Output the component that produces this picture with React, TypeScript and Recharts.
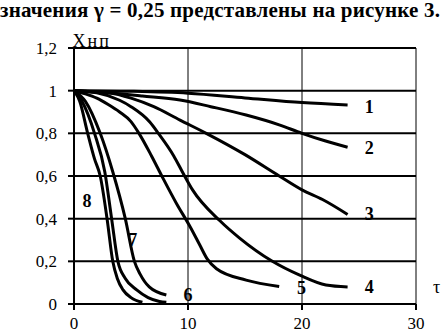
import React from 'react';
import { LineChart, Line, XAxis, YAxis, CartesianGrid, ReferenceDot } from 'recharts';

const titleText = 'значения γ = 0,25 представлены на рисунке 3.';
const yAxisTitle = 'Хнп';
const xAxisTitle = 'τ';

const xTicks = [0, 10, 20, 30];
const yTicks = [0, 0.2, 0.4, 0.6, 0.8, 1, 1.2];

const curve1: number[][] = [[0, 1], [5, 0.997], [10, 0.988], [15, 0.966], [20, 0.944], [24, 0.933]];
const curve2: number[][] = [[0, 1], [3, 0.99], [6, 0.975], [9.3, 0.956], [12, 0.925], [15.1, 0.886], [18, 0.84], [20, 0.8], [22, 0.765], [24, 0.735]];
const curve3: number[][] = [[0, 1], [3, 0.99], [5, 0.965], [7, 0.925], [9.3, 0.862], [11.6, 0.8], [15, 0.7], [18, 0.6], [20, 0.535], [21.8, 0.49], [24, 0.42]];
const curve4: number[][] = [[0, 1], [2, 0.99], [4, 0.955], [5, 0.925], [6.65, 0.853], [7.4, 0.8], [8.75, 0.694], [9.5, 0.62], [10.4, 0.535], [12.8, 0.39], [14.5, 0.31], [17.4, 0.2], [19.8, 0.135], [22.1, 0.089], [24, 0.08]];
const curve5: number[][] = [[0, 1], [1, 0.985], [2, 0.965], [3, 0.935], [4, 0.9], [5, 0.855], [5.7, 0.8], [6.8, 0.694], [7.8, 0.59], [9, 0.47], [10.1, 0.37], [11, 0.28], [11.7, 0.21], [12.5, 0.165], [15.1, 0.112], [18, 0.082]];
const curve6: number[][] = [[0, 1], [0.7, 0.95], [1.8, 0.8], [2.7, 0.62], [3.3, 0.4], [3.85, 0.2], [4.5, 0.12], [5.5, 0.066], [6.5, 0.03], [7.5, 0.012], [8.1, 0.008]];
const curve7: number[][] = [[0, 1], [1, 0.95], [2.3, 0.8], [3.4, 0.62], [4.5, 0.4], [5.3, 0.2], [5.8, 0.14], [6.6, 0.08], [8.1, 0.042]];
const curve8: number[][] = [[0, 1], [0.5, 0.95], [1.2, 0.8], [1.8, 0.68], [2.3, 0.6], [2.9, 0.4], [3.4, 0.2], [3.8, 0.12], [4.3, 0.066], [5, 0.03], [6, 0.008]];

const curves = [curve1, curve2, curve3, curve4, curve5, curve6, curve7, curve8];

const curveLabels = ['1', '2', '3', '4', '5', '6', '7', '8'];
const curveLabelX = [25.9, 25.9, 25.9, 25.9, 19.95, 10.0, 5.16, 1.14];
const curveLabelY = [0.923, 0.731, 0.422, 0.08, 0.075, 0.04, 0.3, 0.483];

const toPts = (a: number[][]) => a.map(([x, y]) => ({ x, y }));
const fmt = (v: number) => String(v).replace('.', ',');

const serif = 'Liberation Serif, Times New Roman, DejaVu Serif, Noto Serif, serif';

const TextShape = (txt: string, bold: boolean, size: number, baseline: string = 'central', spacing: number = 0) => (p: any) => (
  <text
    x={p.cx}
    y={p.cy}
    textAnchor="middle"
    dominantBaseline={baseline}
    style={{ fontFamily: serif, letterSpacing: spacing }}
    fontWeight={bold ? 'bold' : 'normal'}
    fontSize={size}
    fill="#000"
  >
    {txt}
  </text>
);

export default function App() {
  return (
    <div style={{ position: 'absolute', left: 0, top: 0, width: 444, height: 332, background: '#fff', overflow: 'hidden', fontFamily: serif }}>
      <div
        style={{
          position: 'absolute',
          left: 0,
          top: -3,
          fontFamily: serif,
          fontSize: 21,
          fontWeight: 'bold',
          letterSpacing: 0.2,
          whiteSpace: 'nowrap',
          color: '#000',
          lineHeight: '26px',
        }}
      >
        {titleText}
      </div>
      <LineChart width={444} height={332} margin={{ top: 48, right: 28, bottom: 8, left: 14 }} style={{ fontFamily: serif }}>
        <CartesianGrid horizontal={true} vertical={false} stroke="#000" strokeWidth={2} strokeOpacity={1} />
        <CartesianGrid horizontal={false} vertical={true} stroke="#000" strokeWidth={1} strokeOpacity={1} />
        <XAxis
          type="number"
          dataKey="x"
          domain={[0, 30]}
          ticks={xTicks}
          allowDataOverflow
          height={20}
          tickSize={6}
          tickMargin={7}
          stroke="#000"
          strokeWidth={2}
          tick={{ fill: '#000', fontSize: 17, style: { fontFamily: serif } }}
        />
        <YAxis
          type="number"
          domain={[0, 1.2]}
          ticks={yTicks}
          allowDataOverflow
          width={60}
          tickSize={6}
          tickMargin={11}
          stroke="#000"
          strokeWidth={2}
          tickFormatter={fmt}
          tick={{ fill: '#000', fontSize: 17, style: { fontFamily: serif } }}
        />
        {curves.map((c, i) => (
          <Line
            key={i}
            data={toPts(c)}
            dataKey="y"
            type="monotone"
            stroke="#000"
            strokeWidth={3}
            dot={false}
            isAnimationActive={false}
          />
        ))}
        {curveLabels.map((t, i) => (
          <ReferenceDot
            key={'l' + i}
            x={curveLabelX[i]}
            y={curveLabelY[i]}
            r={0}
            ifOverflow="visible"
            shape={TextShape(t, true, 18)}
          />
        ))}
        <ReferenceDot x={1.55} y={1.203} r={0} ifOverflow="visible" shape={TextShape(yAxisTitle, false, 18, 'alphabetic', 2)} />
        <ReferenceDot x={31.8} y={0.08} r={0} ifOverflow="visible" shape={TextShape(xAxisTitle, false, 18)} />
      </LineChart>
    </div>
  );
}
